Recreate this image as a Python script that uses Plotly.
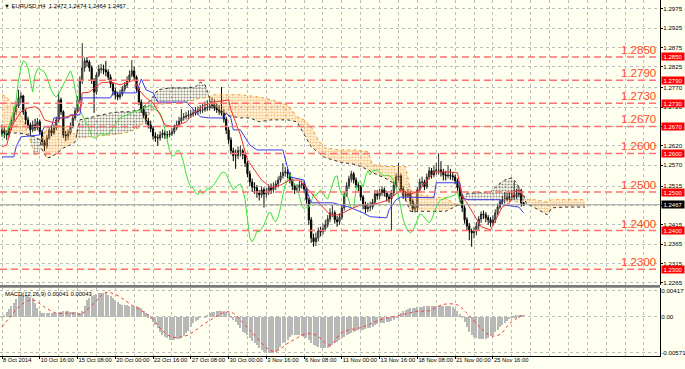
import plotly.graph_objects as go

# ---------------- data ----------------
first_open = 1.2650
closes = [
1.2661, 1.2653, 1.2648, 1.2666, 1.2687, 1.2708, 1.2723, 1.2744, 1.2749, 1.2708,
1.2687, 1.2674, 1.2661, 1.2674, 1.2666, 1.2682, 1.2656, 1.2630, 1.2619, 1.2640,
1.2661, 1.2653, 1.2666, 1.2687, 1.2739, 1.2708, 1.2648, 1.2645, 1.2653, 1.2671,
1.2692, 1.2710, 1.2739, 1.2790, 1.2822, 1.2840, 1.2837, 1.2822, 1.2790, 1.2759,
1.2803, 1.2819, 1.2819, 1.2816, 1.2811, 1.2798, 1.2780, 1.2762, 1.2752, 1.2746,
1.2754, 1.2767, 1.2777, 1.2790, 1.2803, 1.2814, 1.2798, 1.2767, 1.2733, 1.2713,
1.2700, 1.2684, 1.2674, 1.2664, 1.2645, 1.2640, 1.2640, 1.2648, 1.2653, 1.2648,
1.2648, 1.2651, 1.2656, 1.2666, 1.2674, 1.2684, 1.2692, 1.2695, 1.2697, 1.2700,
1.2702, 1.2705, 1.2708, 1.2710, 1.2713, 1.2713, 1.2718, 1.2718, 1.2723, 1.2726,
1.2718, 1.2713, 1.2710, 1.2705, 1.2689, 1.2661, 1.2635, 1.2607, 1.2594, 1.2594,
1.2607, 1.2607, 1.2596, 1.2575, 1.2547, 1.2526, 1.2513, 1.2511, 1.2498, 1.2493,
1.2506, 1.2495, 1.2500, 1.2511, 1.2506, 1.2513, 1.2521, 1.2531, 1.2542, 1.2550,
1.2552, 1.2547, 1.2531, 1.2516, 1.2506, 1.2511, 1.2518, 1.2521, 1.2508, 1.2480,
1.2428, 1.2381, 1.2371, 1.2381, 1.2399, 1.2397, 1.2405, 1.2415, 1.2430, 1.2446,
1.2446, 1.2428, 1.2423, 1.2435, 1.2459, 1.2493, 1.2516, 1.2534, 1.2547, 1.2531,
1.2518, 1.2513, 1.2487, 1.2467, 1.2456, 1.2461, 1.2461, 1.2474, 1.2495, 1.2490,
1.2498, 1.2506, 1.2498, 1.2487, 1.2482, 1.2498, 1.2518, 1.2539, 1.2542, 1.2508,
1.2493, 1.2490, 1.2498, 1.2477, 1.2456, 1.2459, 1.2506, 1.2526, 1.2526, 1.2513,
1.2539, 1.2555, 1.2544, 1.2555, 1.2557, 1.2557, 1.2552, 1.2544, 1.2542, 1.2544,
1.2542, 1.2539, 1.2529, 1.2511, 1.2490, 1.2459, 1.2428, 1.2412, 1.2399, 1.2394,
1.2399, 1.2412, 1.2430, 1.2443, 1.2441, 1.2433, 1.2428, 1.2420, 1.2428, 1.2446,
1.2461, 1.2474, 1.2480, 1.2482, 1.2485, 1.2487, 1.2487, 1.2490, 1.2493, 1.2503,
1.2472, 1.2467]

highs = [
1.2675, 1.2668, 1.2660, 1.2672, 1.2695, 1.2718, 1.2735, 1.2765, 1.2758, 1.2752,
1.2715, 1.2695, 1.2680, 1.2685, 1.2690, 1.2692, 1.2688, 1.2660, 1.2635, 1.2648,
1.2670, 1.2672, 1.2675, 1.2695, 1.2757, 1.2745, 1.2712, 1.2658, 1.2662, 1.2680,
1.2700, 1.2718, 1.2748, 1.2800, 1.2886, 1.2848, 1.2850, 1.2842, 1.2828, 1.2795,
1.2810, 1.2830, 1.2832, 1.2830, 1.2840, 1.2818, 1.2805, 1.2785, 1.2770, 1.2760,
1.2765, 1.2775, 1.2785, 1.2800, 1.2815, 1.2842, 1.2825, 1.2802, 1.2772, 1.2740,
1.2722, 1.2708, 1.2692, 1.2685, 1.2670, 1.2655, 1.2650, 1.2658, 1.2662, 1.2660,
1.2658, 1.2660, 1.2665, 1.2675, 1.2685, 1.2695, 1.2715, 1.2705, 1.2708, 1.2712,
1.2712, 1.2715, 1.2720, 1.2722, 1.2725, 1.2728, 1.2735, 1.2738, 1.2742, 1.2745,
1.2740, 1.2730, 1.2725, 1.2772, 1.2715, 1.2695, 1.2668, 1.2642, 1.2615, 1.2610,
1.2618, 1.2620, 1.2612, 1.2602, 1.2580, 1.2555, 1.2535, 1.2525, 1.2518, 1.2505,
1.2515, 1.2512, 1.2510, 1.2520, 1.2522, 1.2525, 1.2530, 1.2540, 1.2552, 1.2575,
1.2565, 1.2560, 1.2552, 1.2535, 1.2522, 1.2520, 1.2528, 1.2530, 1.2528, 1.2512,
1.2485, 1.2435, 1.2392, 1.2395, 1.2408, 1.2410, 1.2418, 1.2428, 1.2440, 1.2458,
1.2465, 1.2452, 1.2438, 1.2445, 1.2468, 1.2500, 1.2525, 1.2542, 1.2555, 1.2552,
1.2538, 1.2525, 1.2518, 1.2492, 1.2475, 1.2472, 1.2475, 1.2482, 1.2505, 1.2505,
1.2508, 1.2515, 1.2512, 1.2503, 1.2495, 1.2505, 1.2528, 1.2548, 1.2575, 1.2548,
1.2515, 1.2502, 1.2508, 1.2503, 1.2482, 1.2470, 1.2512, 1.2535, 1.2540, 1.2532,
1.2548, 1.2565, 1.2562, 1.2568, 1.2575, 1.2601, 1.2580, 1.2560, 1.2555, 1.2570,
1.2560, 1.2552, 1.2545, 1.2535, 1.2518, 1.2495, 1.2465, 1.2435, 1.2420, 1.2405,
1.2410, 1.2422, 1.2438, 1.2450, 1.2452, 1.2448, 1.2440, 1.2435, 1.2440, 1.2455,
1.2470, 1.2482, 1.2490, 1.2500, 1.2498, 1.2500, 1.2505, 1.2526, 1.2508, 1.2512,
1.2508, 1.2474]

lows = [
1.2643, 1.2640, 1.2635, 1.2642, 1.2660, 1.2680, 1.2700, 1.2718, 1.2730, 1.2700,
1.2675, 1.2665, 1.2645, 1.2655, 1.2658, 1.2660, 1.2648, 1.2620, 1.2606, 1.2612,
1.2635, 1.2645, 1.2648, 1.2660, 1.2680, 1.2700, 1.2640, 1.2632, 1.2635, 1.2648,
1.2665, 1.2685, 1.2705, 1.2730, 1.2780, 1.2812, 1.2825, 1.2812, 1.2780, 1.2705,
1.2752, 1.2798, 1.2808, 1.2805, 1.2800, 1.2790, 1.2770, 1.2750, 1.2740, 1.2738,
1.2740, 1.2748, 1.2760, 1.2770, 1.2785, 1.2798, 1.2790, 1.2760, 1.2725, 1.2705,
1.2692, 1.2675, 1.2665, 1.2655, 1.2636, 1.2630, 1.2620, 1.2633, 1.2640, 1.2638,
1.2638, 1.2642, 1.2645, 1.2650, 1.2660, 1.2668, 1.2678, 1.2685, 1.2688, 1.2690,
1.2692, 1.2695, 1.2698, 1.2700, 1.2702, 1.2705, 1.2708, 1.2710, 1.2712, 1.2715,
1.2710, 1.2705, 1.2700, 1.2698, 1.2680, 1.2650, 1.2625, 1.2598, 1.2580, 1.2560,
1.2585, 1.2592, 1.2585, 1.2565, 1.2538, 1.2515, 1.2500, 1.2495, 1.2485, 1.2478,
1.2485, 1.2460, 1.2485, 1.2492, 1.2495, 1.2498, 1.2505, 1.2512, 1.2525, 1.2535,
1.2540, 1.2535, 1.2522, 1.2505, 1.2495, 1.2498, 1.2502, 1.2508, 1.2498, 1.2470,
1.2415, 1.2368, 1.2358, 1.2360, 1.2372, 1.2385, 1.2390, 1.2398, 1.2408, 1.2422,
1.2435, 1.2418, 1.2410, 1.2415, 1.2428, 1.2452, 1.2488, 1.2508, 1.2525, 1.2522,
1.2510, 1.2502, 1.2478, 1.2455, 1.2445, 1.2448, 1.2450, 1.2455, 1.2468, 1.2480,
1.2482, 1.2490, 1.2488, 1.2475, 1.2472, 1.2400, 1.2490, 1.2510, 1.2530, 1.2500,
1.2482, 1.2478, 1.2485, 1.2465, 1.2448, 1.2447, 1.2452, 1.2498, 1.2515, 1.2505,
1.2508, 1.2532, 1.2535, 1.2538, 1.2545, 1.2545, 1.2540, 1.2530, 1.2530, 1.2535,
1.2532, 1.2530, 1.2520, 1.2500, 1.2478, 1.2448, 1.2418, 1.2400, 1.2375, 1.2358,
1.2380, 1.2388, 1.2402, 1.2420, 1.2430, 1.2422, 1.2415, 1.2410, 1.2412, 1.2420,
1.2440, 1.2455, 1.2468, 1.2470, 1.2475, 1.2475, 1.2478, 1.2480, 1.2482, 1.2486,
1.2462, 1.2464]

# Ichimoku lines (bar index, value)
tenkan_idx = [0, 2, 4, 8, 11, 14, 16, 18, 22, 25, 31, 33, 34, 37, 42, 46, 50, 53, 56, 58,
              61, 64, 67, 69, 73, 78, 82, 86, 90, 96, 97, 101, 104, 107, 110, 114, 118, 122, 126, 131,
              135, 139, 143, 147, 152, 156, 160, 164, 169, 173, 177, 183, 189, 193, 195, 197, 203, 207, 210, 212,
              215, 217, 219, 221]
tenkan = [1.2617, 1.2622, 1.2669, 1.2708, 1.2718, 1.2721, 1.2713, 1.2687, 1.2679, 1.2692,
          1.2700, 1.2713, 1.2757, 1.2759, 1.2783, 1.2785, 1.2778, 1.2783, 1.2790, 1.2765,
          1.2744, 1.2731, 1.2700, 1.2674, 1.2669, 1.2682, 1.2708, 1.2726, 1.2733, 1.2739,
          1.2713, 1.2648, 1.2583, 1.2557, 1.2531, 1.2511, 1.2518, 1.2531, 1.2531, 1.2498,
          1.2467, 1.2441, 1.2441, 1.2454, 1.2467, 1.2467, 1.2472, 1.2480, 1.2506, 1.2493,
          1.2506, 1.2552, 1.2552, 1.2550, 1.2487, 1.2472, 1.2410, 1.2402, 1.2436, 1.2461,
          1.2472, 1.2500, 1.2506, 1.2487]

kijun_idx = [0, 5, 6, 8, 16, 18, 21, 22, 28, 29, 33, 34, 46, 47, 57, 59, 61, 64, 66, 78,
             80, 84, 88, 94, 95, 97, 98, 101, 105, 108, 119, 121, 122, 128, 129, 131, 140, 147, 153, 156,
             163, 164, 167, 169, 183, 184, 194, 195, 197, 211, 212, 219, 221]
kijun = [1.2591, 1.2591, 1.2617, 1.2643, 1.2648, 1.2669, 1.2669, 1.2692, 1.2692, 1.2700,
         1.2700, 1.2744, 1.2744, 1.2757, 1.2757, 1.2793, 1.2765, 1.2757, 1.2733, 1.2733,
         1.2721, 1.2695, 1.2692, 1.2692, 1.2705, 1.2692, 1.2661, 1.2661, 1.2622, 1.2609,
         1.2609, 1.2557, 1.2539, 1.2531, 1.2506, 1.2472, 1.2472, 1.2461, 1.2446, 1.2436,
         1.2433, 1.2454, 1.2480, 1.2487, 1.2485, 1.2524, 1.2524, 1.2487, 1.2480, 1.2480,
         1.2467, 1.2461, 1.2446]

cloud_idx = [0, 2, 4, 7, 9, 11, 13, 14, 16, 17, 19, 21, 24, 26, 29, 31, 33, 37, 42, 46,
             50, 54, 58, 61, 63, 66, 71, 78, 82, 84, 86, 88, 89, 94, 101, 105, 109, 114, 118, 121,
             125, 128, 131, 134, 137, 143, 150, 155, 157, 162, 167, 171, 173, 177, 183, 188, 191, 194, 195, 200,
             207, 210, 213, 216, 218, 221, 222, 226, 231, 233, 239, 247]
span_a = [1.2752, 1.2746, 1.2731, 1.2713, 1.2687, 1.2653, 1.2614, 1.2594, 1.2609, 1.2640,
          1.2666, 1.2674, 1.2674, 1.2669, 1.2661, 1.2648, 1.2640, 1.2643, 1.2645, 1.2648,
          1.2651, 1.2656, 1.2666, 1.2687, 1.2708, 1.2726, 1.2731, 1.2733, 1.2739, 1.2744,
          1.2744, 1.2746, 1.2752, 1.2752, 1.2752, 1.2749, 1.2746, 1.2739, 1.2731, 1.2726,
          1.2695, 1.2687, 1.2669, 1.2635, 1.2614, 1.2609, 1.2609, 1.2604, 1.2571, 1.2566,
          1.2566, 1.2566, 1.2506, 1.2493, 1.2487, 1.2485, 1.2472, 1.2464, 1.2480, 1.2480,
          1.2480, 1.2480, 1.2480, 1.2477, 1.2474, 1.2477, 1.2480, 1.2480, 1.2474, 1.2480,
          1.2480, 1.2480]
span_b = [1.2656, 1.2656, 1.2653, 1.2653, 1.2651, 1.2648, 1.2643, 1.2643, 1.2635, 1.2609,
          1.2588, 1.2591, 1.2604, 1.2614, 1.2622, 1.2630, 1.2687, 1.2692, 1.2700, 1.2705,
          1.2708, 1.2708, 1.2713, 1.2726, 1.2739, 1.2765, 1.2770, 1.2770, 1.2772, 1.2785,
          1.2778, 1.2746, 1.2726, 1.2700, 1.2692, 1.2692, 1.2682, 1.2687, 1.2687, 1.2687,
          1.2682, 1.2648, 1.2617, 1.2602, 1.2589, 1.2578, 1.2571, 1.2558, 1.2550, 1.2537,
          1.2519, 1.2480, 1.2450, 1.2450, 1.2450, 1.2450, 1.2459, 1.2469, 1.2493, 1.2498,
          1.2500, 1.2518, 1.2531, 1.2537, 1.2524, 1.2493, 1.2472, 1.2459, 1.2441, 1.2459,
          1.2461, 1.2461]
chikou_shift = 26

# MACD (12,26,9)
macd_main = [
0.0002, 0.0004, 0.0008, 0.0013, 0.0018, 0.0023, 0.0029, 0.0034, 0.0035, 0.0036,
0.0035, 0.0034, 0.0032, 0.0030, 0.0023, 0.0015, 0.0009, 0.0007, 0.0006, 0.0006,
0.0006, 0.0007, 0.0007, 0.0007, 0.0008, 0.0008, 0.0009, 0.0009, 0.0009, 0.0008,
0.0008, 0.0008, 0.0007, 0.0006, 0.0010, 0.0017, 0.0027, 0.0031, 0.0034, 0.0036,
0.0037, 0.0039, 0.0039, 0.0039, 0.0038, 0.0036, 0.0033, 0.0030, 0.0027, 0.0024,
0.0021, 0.0020, 0.0019, 0.0019, 0.0018, 0.0018, 0.0017, 0.0017, 0.0016, 0.0014,
0.0010, 0.0007, 0.0003, -0.0002, -0.0008, -0.0013, -0.0017, -0.0023, -0.0029, -0.0032,
-0.0034, -0.0036, -0.0036, -0.0036, -0.0035, -0.0035, -0.0033, -0.0030, -0.0026, -0.0022,
-0.0016, -0.0010, -0.0007, -0.0004, -0.0001, 0.0000, 0.0002, 0.0004, 0.0006, 0.0008,
0.0008, 0.0009, 0.0010, 0.0010, 0.0010, 0.0008, 0.0006, 0.0002, -0.0004, -0.0008,
-0.0013, -0.0018, -0.0023, -0.0026, -0.0029, -0.0034, -0.0038, -0.0041, -0.0045, -0.0049,
-0.0053, -0.0055, -0.0057, -0.0058, -0.0058, -0.0057, -0.0056, -0.0053, -0.0047, -0.0042,
-0.0040, -0.0036, -0.0032, -0.0029, -0.0029, -0.0028, -0.0028, -0.0030, -0.0032, -0.0034,
-0.0037, -0.0041, -0.0044, -0.0046, -0.0048, -0.0049, -0.0050, -0.0050, -0.0049, -0.0048,
-0.0045, -0.0042, -0.0039, -0.0036, -0.0034, -0.0031, -0.0029, -0.0027, -0.0026, -0.0024,
-0.0022, -0.0021, -0.0021, -0.0020, -0.0019, -0.0018, -0.0017, -0.0015, -0.0013, -0.0011,
-0.0010, -0.0009, -0.0009, -0.0008, -0.0008, -0.0006, -0.0004, -0.0001, 0.0002, 0.0006,
0.0010, 0.0011, 0.0013, 0.0014, 0.0015, 0.0015, 0.0016, 0.0016, 0.0016, 0.0017,
0.0017, 0.0017, 0.0017, 0.0018, 0.0018, 0.0018, 0.0018, 0.0018, 0.0018, 0.0018,
0.0018, 0.0016, 0.0013, 0.0010, 0.0005, 0.0001, -0.0008, -0.0016, -0.0023, -0.0028,
-0.0032, -0.0034, -0.0035, -0.0035, -0.0035, -0.0035, -0.0033, -0.0030, -0.0028, -0.0024,
-0.0020, -0.0016, -0.0012, -0.0009, -0.0006, -0.0003, 0.0001, 0.0002, 0.0003, 0.0003,
0.0004, 0.00041]

signal_idx = [0, 3, 8, 12, 14, 18, 23, 27, 32, 33, 35, 39, 44, 48, 55, 63, 68, 72, 78, 87,
              95, 98, 105, 115, 122, 129, 133, 139, 144, 153, 160, 169, 176, 181, 187, 193, 197, 203, 207, 211,
              215, 221]
macd_signal = [-0.0016, -0.0002, 0.0019, 0.0027, 0.0026, 0.0016, 0.0006, 0.0006, 0.00055, 0.0004,
               0.0008, 0.0022, 0.0039, 0.0036, 0.0019, 0.0000, -0.0022, -0.0032, -0.0030, -0.0008,
               0.0008, 0.0006, -0.0021, -0.0055, -0.0040, -0.0027, -0.0029, -0.0045, -0.0025, -0.0016,
               -0.0005, 0.0003, 0.0009, 0.0010, 0.0020, 0.0019, 0.0006, -0.0018, -0.0030, -0.0028,
               -0.0011, 0.00043]

levels = [1.2850, 1.2790, 1.2730, 1.2670, 1.2600, 1.2500, 1.2400, 1.2300]
current_price = 1.2467

price_ticks = [1.2975, 1.2925, 1.2875, 1.2825, 1.2770, 1.2720, 1.2670, 1.2620,
               1.2570, 1.2515, 1.2465, 1.2415, 1.2365, 1.2315, 1.2265]
# labels hidden behind the level / price boxes in the reference are left blank
price_tick_text = ["1.2975", "1.2925", "1.2875", "1.2825", "1.2770", "1.2720", "", "1.2620",
                   "1.2570", "1.2515", "", "1.2415", "1.2365", "1.2315", "1.2265"]
macd_ticks = [0.00417, 0.0, -0.00571]
macd_tick_text = ["0.00417", "0.00", "-0.00571"]

time_idx = [0, 16, 32, 48, 64, 80, 96, 112, 128, 144, 160, 176, 192, 208]
time_labels = ["8 Oct 2014", "10 Oct 16:00", "15 Oct 08:00", "20 Oct 00:00", "22 Oct 16:00",
               "27 Oct 08:00", "30 Oct 00:00", "3 Nov 16:00", "6 Nov 08:00", "11 Nov 00:00",
               "13 Nov 16:00", "18 Nov 08:00", "21 Nov 00:00", "25 Nov 16:00"]

title_text = "\u25bc EURUSD,H4  1.2472 1.2474 1.2464 1.2467"
macd_title = "MACD(12,26,9) 0.00041 0.00043"

# ---------------- styling ----------------
BG = "#FFFFF0"
GRID = "#BDBDBD"
ORANGE = "#F39A35"
FONT = "Liberation Sans, Arial, sans-serif"

bars = list(range(len(closes)))
opens = [first_open] + closes[:-1]
cloud_top = [max(a, b) for a, b in zip(span_a, span_b)]
chikou_x = [i - chikou_shift for i in bars[chikou_shift:]]
chikou_y = closes[chikou_shift:]

fig = go.Figure()

# Kumo: orange where A > B, black where B > A
fig.add_trace(go.Scatter(x=cloud_idx, y=span_b, mode="lines", line=dict(width=0),
                         hoverinfo="skip"))
fig.add_trace(go.Scatter(x=cloud_idx, y=cloud_top, mode="lines", line=dict(width=0),
                         fill="tonexty", fillcolor="rgba(0,0,0,0)",
                         fillpattern=dict(shape=".", fgcolor=ORANGE, bgcolor="rgba(0,0,0,0)",
                                          size=3, solidity=0.55),
                         hoverinfo="skip"))
fig.add_trace(go.Scatter(x=cloud_idx, y=span_a, mode="lines", line=dict(width=0),
                         hoverinfo="skip"))
fig.add_trace(go.Scatter(x=cloud_idx, y=cloud_top, mode="lines", line=dict(width=0),
                         fill="tonexty", fillcolor="rgba(0,0,0,0)",
                         fillpattern=dict(shape=".", fgcolor="#222222", bgcolor="rgba(0,0,0,0)",
                                          size=3, solidity=0.4),
                         hoverinfo="skip"))
fig.add_trace(go.Scatter(x=cloud_idx, y=span_a, mode="lines",
                         line=dict(color=ORANGE, width=1, dash="dot"), hoverinfo="skip"))
fig.add_trace(go.Scatter(x=cloud_idx, y=span_b, mode="lines",
                         line=dict(color="#303030", width=1, dash="dot"), hoverinfo="skip"))

# candles
fig.add_trace(go.Candlestick(
    x=bars, open=opens, high=highs, low=lows, close=closes,
    increasing=dict(line=dict(color="#2A2A2A", width=1), fillcolor="#9A9A8C"),
    decreasing=dict(line=dict(color="#000000", width=1), fillcolor="#000000"),
    whiskerwidth=0, hoverinfo="skip"))

# Ichimoku lines
fig.add_trace(go.Scatter(x=chikou_x, y=chikou_y, mode="lines",
                         line=dict(color="#3CE03C", width=1), hoverinfo="skip"))
fig.add_trace(go.Scatter(x=kijun_idx, y=kijun, mode="lines",
                         line=dict(color="#3A3AF0", width=1), hoverinfo="skip"))
fig.add_trace(go.Scatter(x=tenkan_idx, y=tenkan, mode="lines",
                         line=dict(color="#F03030", width=1), hoverinfo="skip"))

# MACD
fig.add_trace(go.Bar(x=bars, y=macd_main, yaxis="y2", width=0.45,
                     marker=dict(color="#B8B8B8", line=dict(width=0)), hoverinfo="skip"))
fig.add_trace(go.Scatter(x=signal_idx, y=macd_signal, yaxis="y2", mode="lines",
                         line=dict(color="#F03C3C", width=1, dash="dot", shape="spline"),
                         hoverinfo="skip"))

shapes = []
annotations = []
for lv in levels:
    shapes.append(dict(type="line", xref="paper", x0=0, x1=1, yref="y", y0=lv, y1=lv,
                       line=dict(color="#FF7070", width=1.5, dash="7px,4px"), layer="above"))
    annotations.append(dict(xref="paper", x=0.9955, xanchor="right", yref="y", y=lv,
                            yanchor="bottom", text=f"{lv:.4f}", showarrow=False, borderpad=0,
                            font=dict(family=FONT, size=11.5, color="#FF4A1C")))
    annotations.append(dict(xref="paper", x=1, xanchor="left", xshift=1, yref="y", y=lv,
                            yanchor="middle", text=f"{lv:.4f}", showarrow=False,
                            bgcolor="#FF0000", width=22, height=7, borderpad=0,
                            font=dict(family=FONT, size=6, color="white")))

shapes.append(dict(type="line", xref="paper", x0=0, x1=1, yref="y",
                   y0=current_price, y1=current_price,
                   line=dict(color="#A0A0A0", width=1), layer="above"))
annotations.append(dict(xref="paper", x=1, xanchor="left", xshift=1, yref="y", y=current_price,
                        yanchor="middle", text=f"{current_price:.4f}", showarrow=False,
                        bgcolor="#000000", width=22, height=7, borderpad=0,
                        font=dict(family=FONT, size=6, color="white")))

# panel separator
shapes.append(dict(type="rect", xref="paper", x0=0, x1=1, yref="paper", y0=0.1915, y1=0.1995,
                   fillcolor="#7A7A7A", line=dict(width=0), layer="above"))

annotations.append(dict(xref="paper", x=0.003, xanchor="left", yref="paper", y=1, yanchor="top",
                        yshift=-1, text=title_text, showarrow=False,
                        font=dict(family=FONT, size=5.9, color="black")))
annotations.append(dict(xref="paper", x=0.004, xanchor="left", yref="y2 domain", y=1,
                        yanchor="top", yshift=-1, text=macd_title, showarrow=False,
                        font=dict(family=FONT, size=5.9, color="black")))

fig.update_layout(
    width=685, height=369,
    margin=dict(l=0, r=25, t=0, b=13, autoexpand=False),
    paper_bgcolor=BG, plot_bgcolor=BG,
    showlegend=False, hovermode=False,
    font=dict(family=FONT, size=6, color="black"),
    bargap=0,
    shapes=shapes, annotations=annotations,
    xaxis=dict(domain=[0, 1], anchor="y2", range=[-0.85, 278.8], automargin=False,
               tickmode="array", tickvals=time_idx, ticktext=time_labels,
               tickangle=0,
               ticks="outside", ticklen=2, tickcolor="black",
               ticklabelposition="outside right", ticklabelstandoff=-2,
               tickfont=dict(family=FONT, size=5.8, color="black"),
               showgrid=True, gridcolor=GRID, griddash="dot", gridwidth=1,
               minor=dict(tickmode="linear", tick0=0, dtick=8, showgrid=True,
                          gridcolor=GRID, griddash="dot", ticks=""),
               showline=True, linecolor="black", linewidth=1,
               zeroline=False, rangeslider=dict(visible=False), fixedrange=True),
    yaxis=dict(domain=[0.1995, 1], anchor="x", side="right", automargin=False,
               range=[1.2259, 1.29977],
               tickmode="array", tickvals=price_ticks, ticktext=price_tick_text,
               ticks="outside", ticklen=2, tickcolor="black", ticklabelstandoff=-1,
               tickfont=dict(family=FONT, size=6.2, color="black"),
               showgrid=True, gridcolor=GRID, griddash="dot",
               showline=True, linecolor="black", zeroline=False, fixedrange=True),
    yaxis2=dict(domain=[0, 0.1915], anchor="x", side="right", automargin=False,
                range=[-0.00624, 0.00465],
                tickmode="array", tickvals=macd_ticks, ticktext=macd_tick_text,
                ticks="", ticklabelstandoff=-1,
                tickfont=dict(family=FONT, size=6.2, color="black"),
                showgrid=True, gridcolor=GRID, griddash="dot",
                showline=True, linecolor="black", zeroline=False, fixedrange=True),
)

fig.write_html("out.html")
